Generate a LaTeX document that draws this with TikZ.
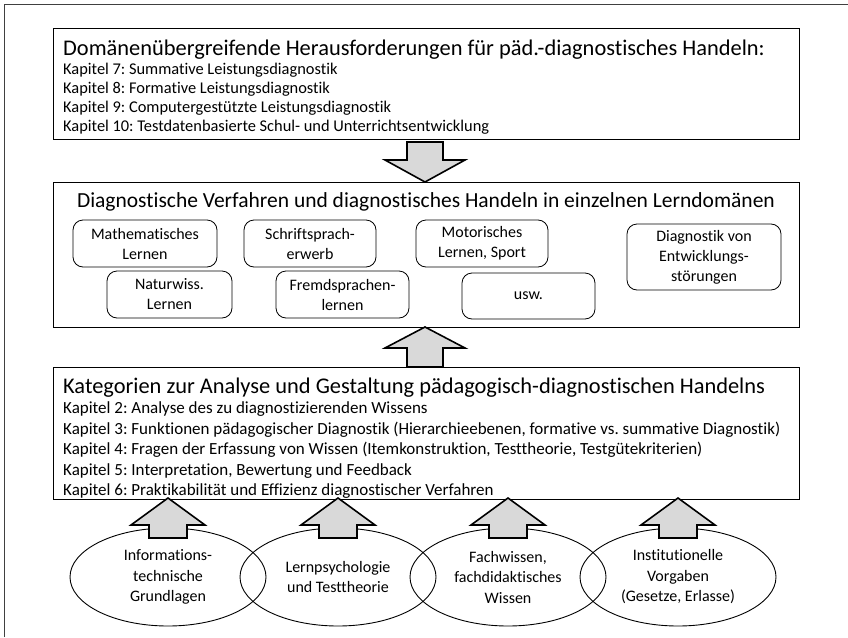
\documentclass[tikz,border=0pt]{standalone}
\usepackage{fontspec}
\setmainfont{Carlito}[Ligatures=NoCommon]
\frenchspacing
\usetikzlibrary{shapes.geometric}
\newcommand{\myblockarrow}[6]{%
  \draw[blk] (#1-#5,#4) -- (#1-#5,#3) -- (#1-#6,#3) -- (#1,#2) -- (#1+#6,#3) -- (#1+#5,#3) -- (#1+#5,#4) -- cycle;}
\begin{document}
\begin{tikzpicture}[x=1pt,y=-1pt,
  box/.style={draw, line width=0.9pt, inner sep=0pt, minimum width=746pt},
  rbox/.style={draw, rounded corners=10pt, line width=0.8pt, align=center, inner sep=0pt,
    font=\fontsize{16}{20}\selectfont},
  ell/.style={draw, ellipse, line width=0.9pt, minimum width=196pt, minimum height=98pt,
    inner sep=0pt, align=center, font=\fontsize{16}{20.5}\selectfont},
  blk/.style={draw, fill=black!15, line width=1.6pt, line join=miter},
  ttl/.style={anchor=base west, inner sep=0pt, font=\fontsize{22.4}{26}\selectfont},
  lsta/.style={anchor=base west, inner sep=0pt, font=\fontsize{16.4}{19}\selectfont},
  lstb/.style={anchor=base west, inner sep=0pt, font=\fontsize{17}{20}\selectfont},
]
\useasboundingbox (0,0) rectangle (848,637);
\draw[line width=0.8pt, black!75] (4,637) -- (4,4) -- (848,4);

% box 1
\node[box, minimum height=111pt] (b1) at (426,83.5) {};
\node[ttl] (t1) at (63,55.5) {Domänenübergreifende Herausforderungen für päd.-diagnostisches Handeln:};
\node[lsta] (k7) at (63,74) {Kapitel 7: Summative Leistungsdiagnostik};
\node[lsta] (k8) at (63,93) {Kapitel 8: Formative Leistungsdiagnostik};
\node[lsta] (k9) at (63,112) {Kapitel 9: Computergestützte Leistungsdiagnostik};
\node[lsta] (k10) at (63,131) {Kapitel 10: Testdatenbasierte Schul- und Unterrichtsentwicklung};

% box 2
\node[box, minimum height=145pt] (b2) at (426,254.5) {};
\node[ttl, anchor=base, font=\fontsize{21.5}{26}\selectfont] (t2) at (426,207) {Diagnostische Verfahren und diagnostisches Handeln in einzelnen Lerndomänen};
\node[rbox, minimum width=144pt, minimum height=47pt] (m1) at (145,243.5) {Mathematisches\\Lernen};
\node[rbox, minimum width=132pt, minimum height=47pt] (m2) at (310,243.5) {Schriftsprach-\\erwerb};
\node[rbox, minimum width=132pt, minimum height=47pt] (m3) at (482,243.5) {Motorisches\\Lernen, Sport};
\node[rbox, minimum width=154pt, minimum height=66pt] (m4) at (704,257) {Diagnostik von\\Entwicklungs-\\störungen};
\node[rbox, minimum width=125pt, minimum height=47pt] (n1) at (169.5,294.5) {Naturwiss.\\Lernen};
\node[rbox, minimum width=133pt, minimum height=47pt] (n2) at (342.5,294.5) {Fremdsprachen-\\lernen};
\node[rbox, minimum width=133pt, minimum height=46pt] (n3) at (528.5,296) {usw.};

% box 3
\node[box, minimum height=132pt] (b3) at (426,433) {};
\node[ttl] (t3) at (63,393) {Kategorien zur Analyse und Gestaltung pädagogisch-diagnostischen Handelns};
\node[lstb] (k2) at (63,413.5) {Kapitel 2: Analyse des zu diagnostizierenden Wissens};
\node[lstb] (k3) at (63,434) {Kapitel 3: Funktionen pädagogischer Diagnostik (Hierarchieebenen, formative vs. summative Diagnostik)};
\node[lstb] (k4) at (63,454.5) {Kapitel 4: Fragen der Erfassung von Wissen (Itemkonstruktion, Testtheorie, Testgütekriterien)};
\node[lstb] (k5) at (63,475) {Kapitel 5: Interpretation, Bewertung und Feedback};
\node[lstb] (k6) at (63,495) {Kapitel 6: Praktikabilität und Effizienz diagnostischer Verfahren};

% big arrows
\myblockarrow{425}{182}{160}{142}{18}{40}
\myblockarrow{425}{327}{348}{367}{18}{40}

% ellipses
\node[ell] (e1) at (168,577) {Informations-\\technische\\Grundlagen};
\node[ell] (e2) at (338,577) {Lernpsychologie\\und Testtheorie};
\node[ell] (e3) at (508,577) {Fachwissen,\\fachdidaktisches\\Wissen};
\node[ell] (e4) at (678,577) {Institutionelle\\Vorgaben\\(Gesetze, Erlasse)};

% small arrows
\myblockarrow{168}{498}{525}{538}{19}{37}
\myblockarrow{338}{498}{525}{538}{19}{37}
\myblockarrow{508}{498}{525}{538}{19}{37}
\myblockarrow{678}{498}{525}{538}{19}{37}
\end{tikzpicture}
\end{document}
